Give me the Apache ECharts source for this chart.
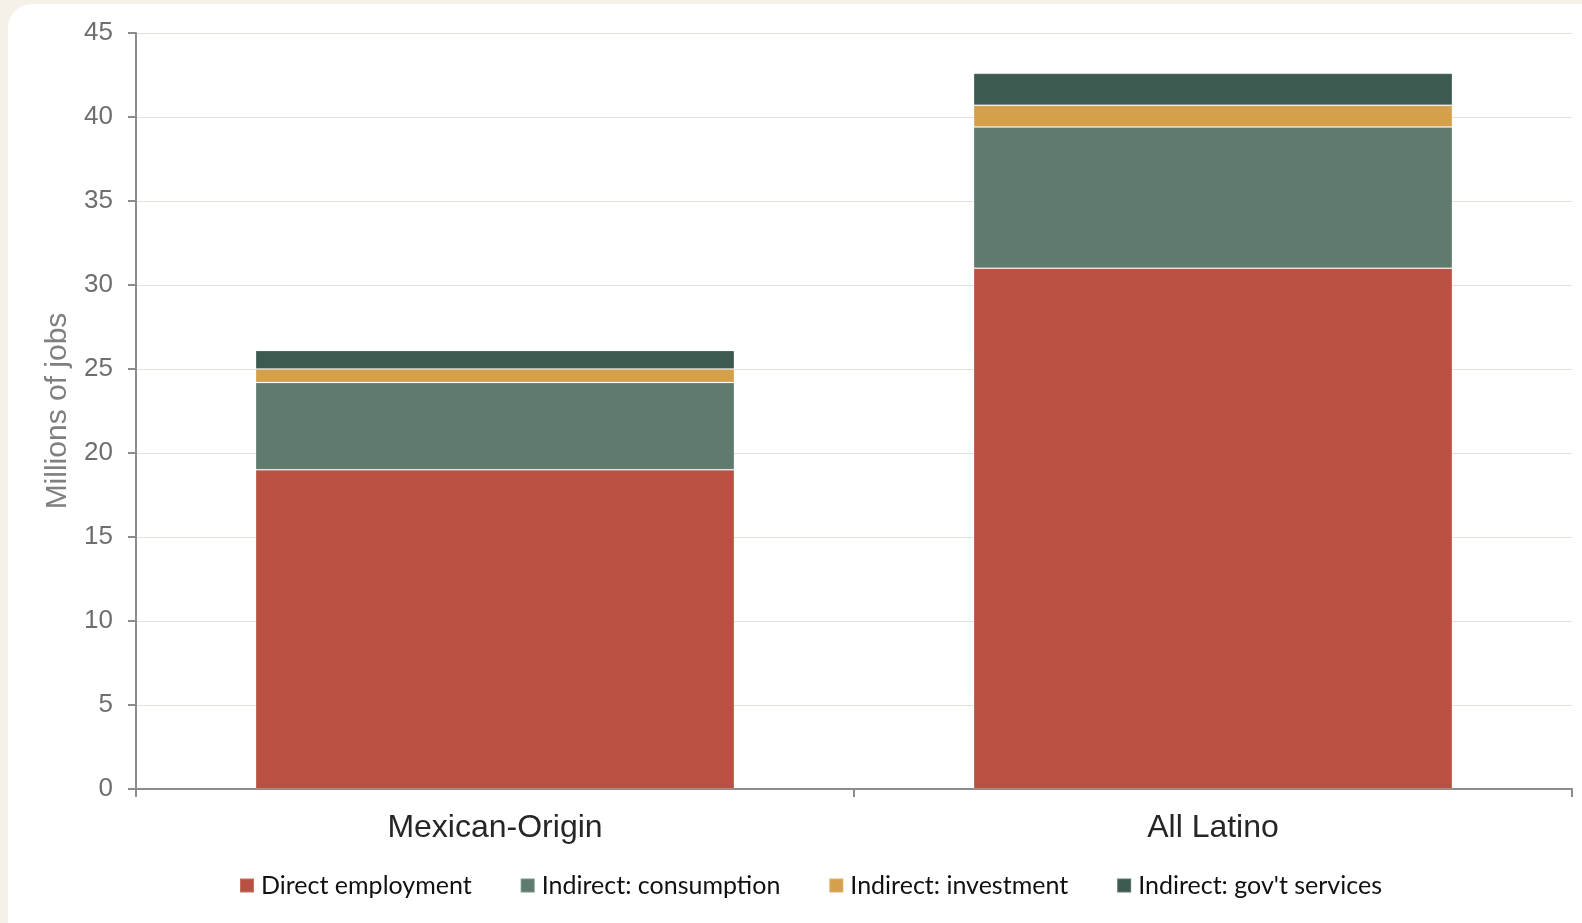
<!DOCTYPE html>
<html>
<head>
<meta charset="utf-8">
<script src="https://cdn.jsdelivr.net/npm/echarts@6/dist/echarts.min.js"></script>
<style>
  html, body { margin: 0; padding: 0; background: #F5F1E9; }
  body { width: 1582px; height: 923px; position: relative; overflow: hidden; }
  #card { position: absolute; left: 8px; top: 4px; width: 1600px; height: 940px;
          background: #ffffff; border-radius: 24px; }
  #chart { position: absolute; left: 0; top: 0; width: 1582px; height: 923px; }
</style>
</head>
<body>
<div id="card"></div>
<div id="chart"></div>
<script>
// Jobs supported (millions), by component
const categories = ['Mexican-Origin', 'All Latino'];
const directEmployment = [19.0, 31.0];
const indirectConsumption = [5.2, 8.4];
const indirectInvestment = [0.8, 1.3];
const indirectGovServices = [1.1, 1.9];
const yTicks = [0, 5, 10, 15, 20, 25, 30, 35, 40, 45];

const seriesDefs = [
  { name: 'Direct employment', data: directEmployment, color: '#B85142' },
  { name: 'Indirect: consumption', data: indirectConsumption, color: '#5E7B6E' },
  { name: 'Indirect: investment', data: indirectInvestment, color: '#D4A04C' },
  { name: "Indirect: gov't services", data: indirectGovServices, color: '#3D5A50' }
];

const chart = echarts.init(document.getElementById('chart'));
chart.setOption({
  backgroundColor: 'transparent',
  animation: false,
  grid: { left: 136, right: 10, top: 33, bottom: 134, containLabel: false },
  legend: {
    left: 234, top: 868,
    itemWidth: 14, itemHeight: 14, itemGap: 48,
    icon: 'rect',
    textStyle: { fontFamily: 'Lato, "Open Sans", sans-serif', fontSize: 25, color: '#111', padding: [0, 0, 0, 2] },
    data: seriesDefs.map(s => s.name)
  },
  xAxis: {
    type: 'category',
    data: categories,
    axisLine: { lineStyle: { color: '#8C8C8C', width: 2 } },
    axisTick: { show: true, length: 8, lineStyle: { color: '#8C8C8C', width: 2 } },
    axisLabel: { fontFamily: 'Liberation Sans, Arial, sans-serif', fontSize: 32, color: '#262626', margin: 23 }
  },
  yAxis: {
    type: 'value',
    min: 0, max: 45, interval: 5,
    name: 'Millions of jobs',
    nameLocation: 'middle',
    nameGap: 63,
    nameTextStyle: { fontFamily: 'Liberation Sans, Arial, sans-serif', fontSize: 30, color: '#7F7F7F' },
    axisLine: { show: true, lineStyle: { color: '#8C8C8C', width: 2 } },
    axisTick: { show: true, length: 8, lineStyle: { color: '#8C8C8C', width: 2 } },
    axisLabel: {
      fontFamily: 'Liberation Sans, Arial, sans-serif', fontSize: 26, color: '#6E6E6E', margin: 23,
      formatter: v => yTicks.includes(v) ? String(v) : ''
    },
    splitLine: { lineStyle: { color: '#E6E1D8', width: 1 } }
  },
  series: seriesDefs.map(s => ({
    name: s.name,
    type: 'bar',
    stack: 'jobs',
    barWidth: '66.7%',
    data: s.data,
    itemStyle: { color: s.color, borderColor: 'rgba(255,255,255,0.18)', borderWidth: 1 }
  }))
});
</script>
</body>
</html>
